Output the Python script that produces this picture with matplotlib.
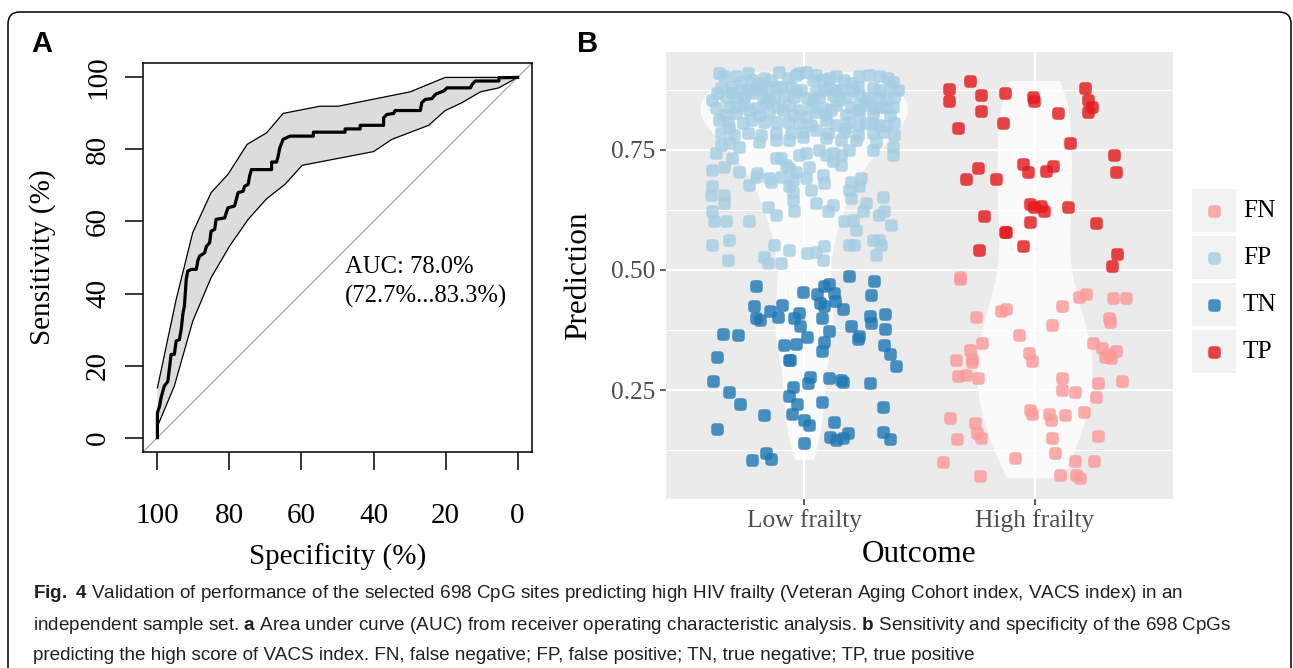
import numpy as np
import matplotlib
matplotlib.use("Agg")
import matplotlib.pyplot as plt
from matplotlib.path import Path
from matplotlib.patches import FancyBboxPatch, Rectangle

W, H = 1293, 668

# ---------------- panel A: ROC curve (specificity %, sensitivity %) ----------------
roc_spec = [100, 100, 99.4, 99.0, 98.1, 97.1, 96.7, 96.2, 95.3, 94.8, 93.9, 93.4, 92.9, 92.5,
            92.0, 91.6, 90.6, 89.2, 88.8, 88.3, 86.9, 86.4, 85.5, 85.1, 84.1, 83.7, 81.3, 80.9,
            80.4, 78.6, 78.1, 77.6, 76.2, 75.8, 74.8, 74.4, 73.9, 68.3, 68.3, 66.9, 66.5, 66.0,
            65.1, 63.2, 56.7, 56.7, 47.9, 47.9, 43.7, 43.7, 37.2, 37.2, 36.3, 34.4, 34.0, 27.0,
            26.6, 25.6, 23.8, 22.8, 21.4, 20.5, 19.6, 13.1, 12.6, 11.7, 5.2, 5.2, 0]
roc_sens = [0, 6.9, 8.7, 11.0, 14.3, 15.6, 18.9, 23.1, 23.1, 26.8, 27.2, 30.0, 34.6, 36.5,
            43.9, 46.2, 46.7, 46.7, 49.0, 50.4, 51.3, 53.1, 54.1, 57.3, 57.8, 60.6, 61.0, 62.4,
            63.8, 64.3, 66.1, 68.0, 68.4, 69.8, 70.3, 72.6, 74.4, 74.4, 76.5, 76.5, 78.1, 80.5,
            82.8, 83.7, 83.7, 84.8, 84.8, 85.7, 85.7, 86.7, 86.7, 88.8, 89.7, 90.0, 90.8, 90.8,
            93.0, 93.9, 94.1, 95.3, 95.9, 96.2, 97.1, 97.1, 98.1, 99.0, 99.0, 99.9, 100]

ci_hi_spec = [100, 94.8, 90.2, 85.1, 80.4, 75.1, 69.7, 65.1, 54.9, 49.8, 29.8, 20.1, 0]
ci_hi_sens = [13.8, 38.3, 56.9, 68.0, 73.1, 81.4, 84.6, 90.0, 92.0, 92.0, 96.0, 100, 100]
ci_lo_spec = [100, 95.3, 90.2, 85.1, 80.0, 74.8, 69.7, 64.6, 59.8, 40.0, 34.9, 24.7, 20.1,
              15.4, 10.3, 5.2, 0]
ci_lo_sens = [3.1, 14.3, 32.3, 44.4, 53.1, 60.6, 66.3, 70.3, 75.6, 79.4, 82.8, 86.7, 90.8,
              93.0, 96.0, 97.1, 100]

auc_lines = ["AUC: 78.0%", "(72.7%...83.3%)"]
pct_ticks = [0, 20, 40, 60, 80, 100]

# ---------------- panel B: predictions by outcome ----------------
outcomes = ["Low frailty", "High frailty"]
classes = ["FN", "FP", "TN", "TP"]
class_colors = ["#FB9A99", "#A6CEE3", "#1F78B4", "#E31A1C"]
pred_ticks = [0.25, 0.50, 0.75]

fp_x = [0.628, 0.703, 0.754, 0.826, 0.891, 0.964, 1.007, 1.080, 1.138, 1.239, 1.283, 1.362, 1.384,
        0.725, 0.928, 1.036, 0.855, 1.174,
        0.638, 0.681, 0.732, 0.790, 0.841, 0.877, 0.942, 0.986, 1.051, 1.109, 1.159, 1.210, 1.297,
        1.370, 1.406, 0.601, 0.659, 0.710, 0.768, 0.819, 0.870, 0.913, 0.957, 1.014, 1.065, 1.123,
        1.181, 1.239, 1.275, 1.326, 1.391,
        0.616, 0.674, 0.732, 0.790, 0.833, 0.884, 0.935, 0.978, 1.029, 1.080, 1.138, 1.203, 1.254,
        1.304, 1.355, 0.652, 0.703, 0.804, 0.848, 0.949, 1.007, 1.094, 1.181, 1.239, 1.297, 1.370,
        0.667, 0.768, 0.826, 0.928, 0.978, 1.094, 1.138, 1.196, 1.268, 1.326, 1.391,
        0.638, 0.696, 0.754, 0.812, 0.877, 0.942, 0.993, 1.051, 1.101, 1.174, 1.232, 1.297, 1.341, 1.391,
        0.638, 0.674, 0.717, 0.804, 0.877, 0.935, 0.993, 1.094, 1.159, 1.225, 1.312, 1.384,
        0.616, 0.688, 0.877, 0.899, 0.978, 1.007, 1.065, 1.094, 1.123, 1.159, 1.196, 1.384, 1.297,
        0.920, 0.935, 1.022, 1.123, 1.159,
        0.601, 0.652, 0.717, 0.797, 0.964,
        0.790, 0.761, 0.848, 0.855, 0.899, 0.949, 1.007, 1.080, 1.087, 1.203, 1.246,
        0.601, 0.652, 0.935, 0.949, 1.029, 1.196, 1.239, 0.594, 1.341, 0.652, 0.949,
        1.051, 1.123, 1.203, 1.268, 0.841, 0.877, 0.957, 1.101, 1.254, 1.326, 1.348, 0.601, 0.609,
        0.659, 0.761, 1.174, 1.210, 1.225, 1.377,
        0.601, 0.674, 0.870, 0.935, 1.014, 1.051, 1.087, 1.080, 1.196, 1.217, 1.297, 1.333, 1.326,
        1.312, 0.667, 0.826, 0.841, 0.899,
        0.652, 0.775, 0.804, 0.978, 1.051, 1.109, 1.203, 1.326, 0.688, 0.754, 0.812, 0.899, 0.964,
        1.087, 1.138, 1.232, 1.326, 0.623, 0.739, 0.848, 1.036, 1.152, 1.268, 1.355, 0.703, 0.761,
        0.906, 1.051, 1.116, 1.232, 1.326, 1.384, 0.630, 0.732, 0.877, 1.029, 1.239, 1.297, 1.355,
        0.674, 1.181]
fp_y = [0.910, 0.903, 0.910, 0.899, 0.913, 0.906, 0.913, 0.896, 0.903, 0.903, 0.906, 0.899, 0.892,
        0.892, 0.899, 0.896, 0.896, 0.896,
        0.878, 0.882, 0.875, 0.882, 0.875, 0.882, 0.882, 0.875, 0.872, 0.878, 0.875, 0.875, 0.878,
        0.878, 0.875, 0.854, 0.861, 0.861, 0.868, 0.858, 0.858, 0.865, 0.861, 0.858, 0.861, 0.865,
        0.861, 0.865, 0.858, 0.861, 0.861,
        0.837, 0.840, 0.844, 0.837, 0.847, 0.840, 0.844, 0.833, 0.840, 0.837, 0.844, 0.840, 0.844,
        0.837, 0.840, 0.823, 0.826, 0.823, 0.830, 0.823, 0.819, 0.823, 0.823, 0.826, 0.826, 0.823,
        0.809, 0.812, 0.809, 0.809, 0.806, 0.812, 0.802, 0.809, 0.806, 0.802, 0.806,
        0.785, 0.781, 0.785, 0.781, 0.785, 0.785, 0.788, 0.792, 0.785, 0.788, 0.781, 0.785, 0.788, 0.781,
        0.760, 0.764, 0.757, 0.767, 0.771, 0.771, 0.778, 0.774, 0.771, 0.771, 0.767, 0.757,
        0.743, 0.733, 0.733, 0.733, 0.740, 0.743, 0.750, 0.740, 0.743, 0.740, 0.750, 0.740, 0.750,
        0.719, 0.712, 0.715, 0.726, 0.719,
        0.708, 0.715, 0.705, 0.701, 0.705,
        0.694, 0.677, 0.691, 0.684, 0.694, 0.688, 0.691, 0.698, 0.681, 0.684, 0.691,
        0.674, 0.656, 0.674, 0.663, 0.667, 0.667, 0.674, 0.656, 0.653, 0.639, 0.646,
        0.639, 0.635, 0.649, 0.639, 0.632, 0.615, 0.622, 0.622, 0.622, 0.615, 0.622, 0.622, 0.601,
        0.601, 0.601, 0.601, 0.604, 0.583, 0.594,
        0.552, 0.563, 0.552, 0.542, 0.535, 0.538, 0.549, 0.521, 0.552, 0.552, 0.563, 0.552, 0.563,
        0.531, 0.521, 0.528, 0.514, 0.514,
        0.903, 0.896, 0.889, 0.910, 0.906, 0.899, 0.889, 0.903, 0.868, 0.875, 0.875, 0.882, 0.872,
        0.875, 0.875, 0.882, 0.875, 0.868, 0.858, 0.854, 0.854, 0.854, 0.851, 0.854, 0.840, 0.833,
        0.833, 0.830, 0.833, 0.833, 0.840, 0.840, 0.812, 0.806, 0.809, 0.802, 0.802, 0.806, 0.799,
        0.795, 0.795]

tn_x = [1.196, 1.304, 0.790, 0.994, 1.055, 1.084, 1.106, 1.128, 1.290, 0.784, 0.903, 1.070, 1.084,
        1.135, 0.852, 0.888, 0.975, 0.954, 0.791, 0.809, 1.077, 1.167, 1.284, 1.291, 1.352, 1.352,
        0.983, 1.204, 1.109, 1.239, 1.233, 0.649, 0.712, 1.012, 1.084, 0.913, 0.964, 1.075, 1.348,
        1.374, 0.623, 0.932, 0.939, 1.399, 0.603, 1.026, 1.016, 1.109, 1.159, 1.168, 1.287, 0.951,
        0.675, 0.932, 0.968, 0.719, 1.078, 1.342, 0.826, 0.946, 1.000, 1.019, 1.130, 0.623, 1.110,
        1.138, 1.167, 1.190, 1.342, 1.374, 0.997, 0.833, 0.772, 0.855]
tn_y = [0.488, 0.478, 0.467, 0.455, 0.449, 0.467, 0.470, 0.453, 0.448, 0.425, 0.428, 0.431, 0.426,
        0.435, 0.415, 0.403, 0.411, 0.401, 0.399, 0.396, 0.401, 0.418, 0.404, 0.389, 0.408, 0.378,
        0.384, 0.383, 0.372, 0.363, 0.356, 0.366, 0.365, 0.361, 0.351, 0.344, 0.345, 0.332, 0.344,
        0.326, 0.318, 0.313, 0.313, 0.301, 0.269, 0.278, 0.265, 0.276, 0.271, 0.266, 0.264, 0.257,
        0.245, 0.238, 0.220, 0.220, 0.226, 0.215, 0.197, 0.200, 0.188, 0.178, 0.183, 0.169, 0.153,
        0.146, 0.151, 0.161, 0.162, 0.147, 0.140, 0.119, 0.104, 0.106]

tp_x = [1.719, 1.628, 1.628, 1.769, 1.870, 1.993, 1.996, 1.766, 1.863, 1.668, 2.101, 2.216, 2.231,
        2.248, 2.231, 2.152, 2.343, 2.351, 1.752, 1.700, 1.834, 1.947, 1.971, 2.048, 2.079, 1.981,
        1.996, 2.029, 2.039, 2.144, 1.781, 1.978, 1.870, 1.877, 2.267, 1.759, 1.949, 2.356, 2.336]
tp_y = [0.894, 0.877, 0.852, 0.865, 0.868, 0.861, 0.851, 0.832, 0.807, 0.795, 0.826, 0.880, 0.854,
        0.839, 0.828, 0.764, 0.740, 0.705, 0.712, 0.689, 0.689, 0.721, 0.705, 0.707, 0.717, 0.637,
        0.632, 0.633, 0.622, 0.632, 0.613, 0.599, 0.580, 0.580, 0.597, 0.542, 0.550, 0.533, 0.508]

fn_x = [1.675, 1.675, 2.192, 2.221, 2.339, 2.394, 2.120, 1.853, 1.874, 1.743, 2.075, 2.322, 2.325,
        1.931, 1.773, 1.719, 1.658, 1.729, 1.729, 1.975, 1.986, 2.253, 2.293, 2.322, 2.351, 2.332,
        2.303, 1.668, 1.701, 1.752, 2.118, 2.118, 2.173, 2.274, 2.380, 2.264, 1.981, 1.986, 2.061,
        2.069, 2.133, 2.212, 1.633, 1.740, 1.750, 1.766, 1.661, 2.075, 2.274, 1.916, 2.087, 1.603,
        2.173, 2.257, 1.762, 2.108, 2.180, 2.198]
fn_y = [0.486, 0.481, 0.444, 0.451, 0.441, 0.441, 0.425, 0.415, 0.418, 0.403, 0.385, 0.401, 0.391,
        0.365, 0.347, 0.333, 0.313, 0.314, 0.309, 0.328, 0.311, 0.347, 0.337, 0.324, 0.331, 0.317,
        0.319, 0.279, 0.281, 0.276, 0.276, 0.251, 0.245, 0.264, 0.269, 0.236, 0.208, 0.200, 0.201,
        0.188, 0.197, 0.204, 0.191, 0.182, 0.161, 0.151, 0.147, 0.151, 0.154, 0.108, 0.119, 0.101,
        0.102, 0.103, 0.070, 0.072, 0.074, 0.066]

caption_lines = [
    r"$\mathbf{Fig.}$ $\mathbf{4}$ Validation of performance of the selected 698 CpG sites "
    r"predicting high HIV frailty (Veteran Aging Cohort index, VACS index) in an",
    r"independent sample set. $\mathbf{a}$ Area under curve (AUC) from receiver operating "
    r"characteristic analysis. $\mathbf{b}$ Sensitivity and specificity of the 698 CpGs",
    "predicting the high score of VACS index. FN, false negative; FP, false positive; "
    "TN, true negative; TP, true positive",
]

plt.rcParams["font.family"] = ["Liberation Serif", "DejaVu Serif"]
plt.rcParams["mathtext.fontset"] = "custom"
plt.rcParams["mathtext.rm"] = "Liberation Sans"
plt.rcParams["mathtext.bf"] = "Liberation Sans:bold"


def px_rect(left, top, right, bottom):
    return [left / W, 1 - bottom / H, (right - left) / W, (bottom - top) / H]


def nrd0_kde(vals, n=512):
    v = np.asarray(vals, dtype=float)
    q75, q25 = np.percentile(v, [75, 25])
    bw = 0.9 * min(v.std(ddof=1), (q75 - q25) / 1.34) * len(v) ** -0.2
    grid = np.linspace(v.min(), v.max(), n)
    dens = np.exp(-0.5 * ((grid[:, None] - v[None, :]) / bw) ** 2).sum(1)
    return grid, dens / (len(v) * bw * np.sqrt(2 * np.pi))


# rounded square marker like the ggplot points in the reference
t = np.linspace(0, 2 * np.pi, 60)
rsq = Path(np.column_stack([np.sign(np.cos(t)) * np.abs(np.cos(t)) ** 0.5,
                            np.sign(np.sin(t)) * np.abs(np.sin(t)) ** 0.5]), closed=True)
PT_SIZE = 82

fig = plt.figure(figsize=(W / 100, H / 100), dpi=100)

# ---------- A ----------
ax = fig.add_axes(px_rect(143, 63, 532, 452))
ax.fill(ci_hi_spec + ci_lo_spec[::-1], ci_hi_sens + ci_lo_sens[::-1],
        facecolor="#DCDCDC", edgecolor="none", zorder=1)
ax.plot(ci_hi_spec, ci_hi_sens, color="black", lw=0.9, zorder=2)
ax.plot(ci_lo_spec, ci_lo_sens, color="black", lw=0.9, zorder=2)
ax.axline((100, 0), (0, 100), color="#A8A8A8", lw=0.9, zorder=2)
ax.plot(roc_spec, roc_sens, color="black", lw=2.3, zorder=3)
ax.text(48, 47.5, auc_lines[0], fontsize=17.7, ha="left", va="center")
ax.text(48, 39.2, auc_lines[1], fontsize=17.7, ha="left", va="center")
ax.set_xlim(104, -4)
ax.set_ylim(-4, 104)
ax.set_xticks(pct_ticks)
ax.set_yticks(pct_ticks)
ax.set_yticklabels([str(v) for v in pct_ticks], rotation=90, va="center")
ax.tick_params(direction="out", length=13, width=1.1, labelsize=21)
ax.tick_params(axis="x", pad=24)
ax.tick_params(axis="y", pad=10)
for s in ax.spines.values():
    s.set_linewidth(1.1)
ax.set_xlabel("Specificity (%)", fontsize=21, va="center")
ax.xaxis.set_label_coords(0.5, (452 - 557) / 389)
ax.set_ylabel("Sensitivity (%)", fontsize=21, va="center", ha="center")
ax.yaxis.set_label_coords((43 - 143) / 389, 0.5)

# ---------- B ----------
axb = fig.add_axes(px_rect(666, 52, 1173, 499))
axb.set_facecolor("#EBEBEB")
axb.set_axisbelow(True)
for s in axb.spines.values():
    s.set_visible(False)
axb.set_xlim(0.4, 2.6)
axb.set_ylim(0.023, 0.954)
axb.set_xticks([1, 2])
axb.set_xticklabels(outcomes)
axb.set_yticks(pred_ticks)
axb.set_yticklabels(["%.2f" % v for v in pred_ticks])
axb.set_yticks([0.125, 0.375, 0.625, 0.875], minor=True)
axb.grid(which="major", color="white", lw=1.5)
axb.grid(which="minor", axis="y", color="white", lw=0.75)
axb.tick_params(which="major", length=4.5, width=1.1, color="#333333",
                labelcolor="#4D4D4D", labelsize=18.3, pad=3)
axb.tick_params(which="minor", length=0)

groups_y = [fp_y + tn_y, tp_y + fn_y]
profiles = [nrd0_kde(g) for g in groups_y]
dmax = max(d.max() for _, d in profiles)
for pos, (grid, dens) in zip([1, 2], profiles):
    hw = 0.45 * dens / dmax
    axb.fill_betweenx(grid, pos - hw, pos + hw, facecolor="white", alpha=0.78, lw=0, zorder=2)

series = {"FN": (fn_x, fn_y), "FP": (fp_x, fp_y), "TN": (tn_x, tn_y), "TP": (tp_x, tp_y)}
for name, col in zip(classes, class_colors):
    xs, ys = series[name]
    assert len(xs) == len(ys)
    axb.scatter(xs, ys, s=PT_SIZE, marker=rsq, color=col, alpha=0.82, lw=0, zorder=3)

axb.set_xlabel("Outcome", fontsize=22.5, va="center")
axb.xaxis.set_label_coords(0.5, (499 - 555) / 447)
axb.set_ylabel("Prediction", fontsize=22.5, va="center", ha="center")
axb.yaxis.set_label_coords((579 - 666) / 507, 0.5)

# ---------- overlay: frame, panel letters, legend, caption ----------
ov = fig.add_axes([0, 0, 1, 1])
ov.set_xlim(0, W)
ov.set_ylim(H, 0)
ov.axis("off")
ov.add_patch(FancyBboxPatch((8, 12), 1283, 700, boxstyle="round,pad=0,rounding_size=12",
                            fill=False, ec="black", lw=1.1, clip_on=False))
ov.text(42, 44, "A", fontsize=21, fontweight="bold", family="Liberation Sans",
        ha="center", va="center")
ov.text(588, 44, "B", fontsize=21, fontweight="bold", family="Liberation Sans",
        ha="center", va="center")

for i, (name, col) in enumerate(zip(classes, class_colors)):
    top = 189 + i * 47
    ov.add_patch(Rectangle((1192, top), 44, 43, facecolor="#F2F2F2", edgecolor="none"))
    ov.scatter([1214], [top + 21.5], s=PT_SIZE, marker=rsq, color=col, alpha=0.82, lw=0)
    ov.text(1243, top + 22, name, fontsize=18.3, ha="left", va="center")

caps = [ov.text(33, y, line, fontsize=13, family="Liberation Sans", color="#231F20",
                ha="left", va="center")
        for line, y in zip(caption_lines, [594, 625, 655])]
fig.canvas.draw()
w0 = max(c.get_window_extent().width for c in caps)
for c in caps:
    c.set_fontsize(13 * 1195 / w0)

fig.savefig("out.png", dpi=100)
